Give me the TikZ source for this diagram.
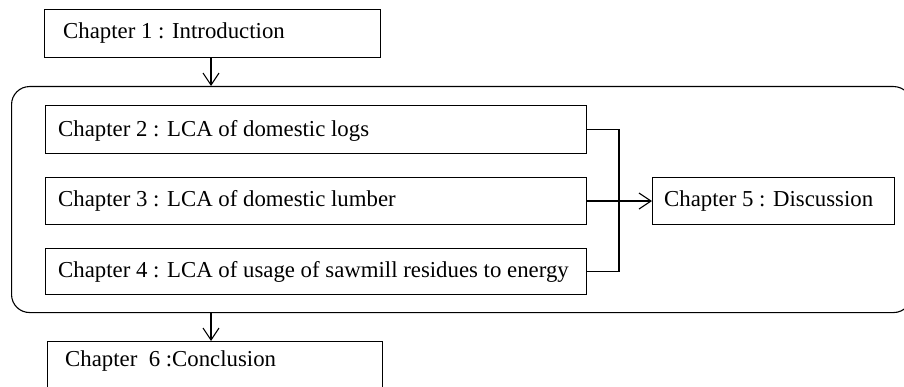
\documentclass[tikz,border=0pt]{standalone}
\usepackage{fontspec}
\setmainfont{Liberation Serif}
\usetikzlibrary{arrows.meta}
\begin{document}
\begin{tikzpicture}[x=1pt,y=-1pt,
  chapbox/.style={draw=black, line width=1.1pt, rectangle, anchor=north west, inner sep=0pt},
  chaptext/.style={anchor=base west, inner sep=0pt, font=\fontsize{22.8}{26}\selectfont},
  groupframe/.style={draw=black, line width=1.1pt, rectangle, rounded corners=18pt,
    anchor=north west, inner sep=0pt},
  link/.style={draw=black, line width=1.1pt},
  arrowlink/.style={link, -{Straight Barb[length=12pt,width=16pt,line width=1.1pt]}}
]
\useasboundingbox (0,0) rectangle (904,387);

% outer frame around chapters 2-5
\node[groupframe, minimum width=900pt, minimum height=226pt] (grp) at (11,86) {};

% chapter boxes
\node[chapbox, minimum width=336pt, minimum height=48pt] (c1) at (44,9) {};
\node[chapbox, minimum width=541pt, minimum height=48pt] (c2) at (45,105) {};
\node[chapbox, minimum width=541pt, minimum height=47pt] (c3) at (45,177) {};
\node[chapbox, minimum width=541pt, minimum height=46pt] (c4) at (45,248) {};
\node[chapbox, minimum width=242pt, minimum height=47pt] (c5) at (652,177) {};
\node[chapbox, minimum width=335pt, minimum height=48pt] (c6) at (47,341) {};

% chapter titles
\node[chaptext] (t1) at (63,39) {Chapter 1 : Introduction};
\node[chaptext] (t2) at (58,137) {Chapter 2 : LCA of domestic logs};
\node[chaptext] (t3) at (58,207) {Chapter 3 : LCA of domestic lumber};
\node[chaptext] (t4) at (58,277) {Chapter 4 : LCA of usage of sawmill residues to energy};
\node[chaptext] (t5) at (664,207) {Chapter 5 : Discussion};
\node[chaptext] (t6) at (65,366) {Chapter\ \ 6 :Conclusion};

% connectors
\coordinate (j) at (619,130);
\draw[arrowlink] (c1.south -| 211,0) -- (grp.north -| 211,0);
\draw[link] (c2.east) -- (c2.east -| j) |- (c4.east);
\draw[arrowlink] (c3.east) -- (c5.west);
\draw[arrowlink] (grp.south -| 211,0) -- (c6.north -| 211,0);
\end{tikzpicture}
\end{document}
